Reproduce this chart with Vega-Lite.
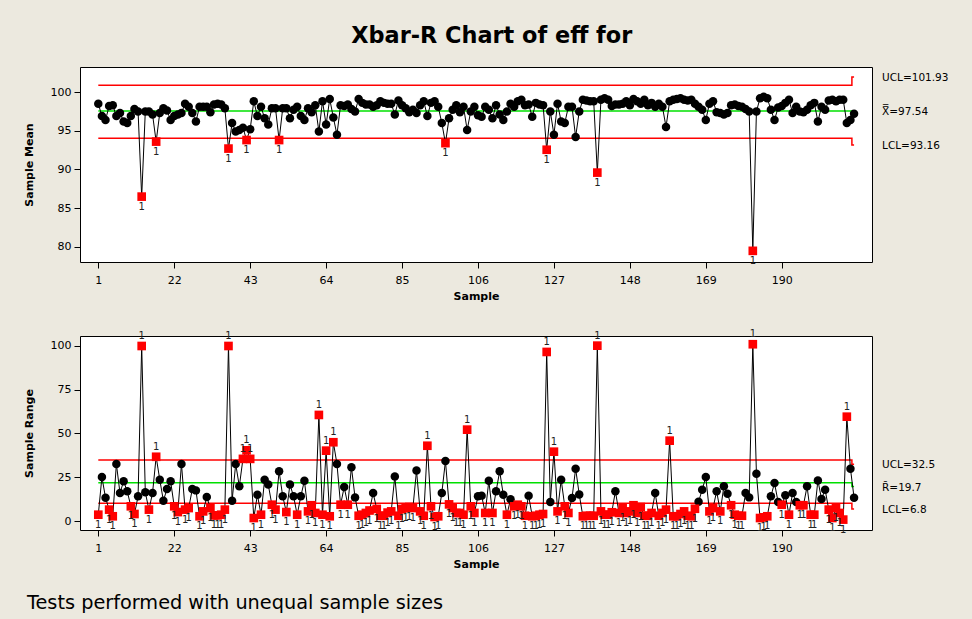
{
  "$schema": "https://vega.github.io/schema/vega-lite/v6.json",
  "background": "#ECE9DF",
  "padding": {"left": 22, "top": 25, "right": 60, "bottom": 40},
  "title": {"text": "Xbar-R Chart of eff for", "font": "DejaVu Sans", "fontSize": 22.4, "fontWeight": "bold", "anchor": "middle", "dx": 6, "offset": 19, "color": "black"},
  "bounds": "flush",
  "spacing": 74,
  "resolve": {"scale": {"x": "independent", "y": "independent"}},
  "datasets": {
    "samples": [
{"sample":1,"mean":98.5,"range":3.6},{"sample":2,"mean":96.9,"range":25.1},{"sample":3,"mean":96.4,"range":13.3},{"sample":4,"mean":98.2,"range":6.5},{"sample":5,"mean":98.3,"range":2.7},{"sample":6,"mean":96.9,"range":32.6},{"sample":7,"mean":97.3,"range":16},{"sample":8,"mean":96.2,"range":22.7},{"sample":9,"mean":96.0,"range":17},{"sample":10,"mean":96.9,"range":8.4},
{"sample":11,"mean":97.8,"range":4},{"sample":12,"mean":97.5,"range":14.1},{"sample":13,"mean":86.5,"range":100},{"sample":14,"mean":97.5,"range":16.4},{"sample":15,"mean":97.5,"range":6.5},{"sample":16,"mean":97.1,"range":16},{"sample":17,"mean":93.6,"range":36.7},{"sample":18,"mean":97.3,"range":23.6},{"sample":19,"mean":97.9,"range":11.6},{"sample":20,"mean":97.6,"range":18.3},
{"sample":21,"mean":96.4,"range":22.7},{"sample":22,"mean":96.9,"range":8.4},{"sample":23,"mean":97.1,"range":5.1},{"sample":24,"mean":97.3,"range":32.6},{"sample":25,"mean":98.5,"range":6.5},{"sample":26,"mean":98.1,"range":7.4},{"sample":27,"mean":97.3,"range":18.3},{"sample":28,"mean":96.2,"range":17.5},{"sample":29,"mean":98.1,"range":2.7},{"sample":30,"mean":98.1,"range":5.5},
{"sample":31,"mean":98.1,"range":13.7},{"sample":32,"mean":97.4,"range":7.4},{"sample":33,"mean":98.4,"range":3.2},{"sample":34,"mean":98.5,"range":3.2},{"sample":35,"mean":98.4,"range":3.6},{"sample":36,"mean":97.9,"range":6.5},{"sample":37,"mean":92.7,"range":100},{"sample":38,"mean":96.0,"range":11.6},{"sample":39,"mean":94.9,"range":32.6},{"sample":40,"mean":95.1,"range":19.8},
{"sample":41,"mean":95.4,"range":35.5},{"sample":42,"mean":93.8,"range":40.4},{"sample":43,"mean":95.2,"range":35.5},{"sample":44,"mean":98.8,"range":1.7},{"sample":45,"mean":96.9,"range":15},{"sample":46,"mean":98.1,"range":3.6},{"sample":47,"mean":96.6,"range":23.6},{"sample":48,"mean":95.8,"range":20.8},{"sample":49,"mean":97.9,"range":9.3},{"sample":50,"mean":97.9,"range":6.5},
{"sample":51,"mean":93.8,"range":28.4},{"sample":52,"mean":97.9,"range":14.1},{"sample":53,"mean":97.9,"range":5.1},{"sample":54,"mean":96.6,"range":20.8},{"sample":55,"mean":97.7,"range":14.1},{"sample":56,"mean":98.1,"range":3.6},{"sample":57,"mean":96.9,"range":14.1},{"sample":58,"mean":96.4,"range":23},{"sample":59,"mean":97.9,"range":5.5},{"sample":60,"mean":97.4,"range":9},
{"sample":61,"mean":98.3,"range":4.6},{"sample":62,"mean":94.9,"range":60.6},{"sample":63,"mean":98.8,"range":3.6},{"sample":64,"mean":95.8,"range":40.2},{"sample":65,"mean":99.1,"range":2.7},{"sample":66,"mean":96.7,"range":45},{"sample":67,"mean":94.5,"range":32.6},{"sample":68,"mean":98.3,"range":9.3},{"sample":69,"mean":98.2,"range":19.4},{"sample":70,"mean":98.4,"range":9.3},
{"sample":71,"mean":97.8,"range":30.7},{"sample":72,"mean":97.5,"range":13.5},{"sample":73,"mean":99.1,"range":3},{"sample":74,"mean":98.6,"range":3.6},{"sample":75,"mean":98.4,"range":4.6},{"sample":76,"mean":98.4,"range":6},{"sample":77,"mean":98.1,"range":16},{"sample":78,"mean":98.3,"range":6.9},{"sample":79,"mean":98.8,"range":3},{"sample":80,"mean":98.6,"range":3},
{"sample":81,"mean":98.5,"range":4.8},{"sample":82,"mean":98.5,"range":5.5},{"sample":83,"mean":97.1,"range":25.5},{"sample":84,"mean":98.9,"range":3},{"sample":85,"mean":98.3,"range":6.9},{"sample":86,"mean":97.9,"range":7.4},{"sample":87,"mean":97.4,"range":8},{"sample":88,"mean":97.7,"range":7.4},{"sample":89,"mean":97.3,"range":28.8},{"sample":90,"mean":98.3,"range":5.5},
{"sample":91,"mean":98.8,"range":3},{"sample":92,"mean":96.9,"range":43},{"sample":93,"mean":98.6,"range":8.4},{"sample":94,"mean":98.8,"range":2.3},{"sample":95,"mean":98.1,"range":2.7},{"sample":96,"mean":96.0,"range":16},{"sample":97,"mean":93.4,"range":34.3},{"sample":98,"mean":96.6,"range":9.5},{"sample":99,"mean":97.7,"range":7.4},{"sample":100,"mean":98.3,"range":4.6},
{"sample":101,"mean":97.4,"range":4.6},{"sample":102,"mean":98.1,"range":3.6},{"sample":103,"mean":95.1,"range":52.2},{"sample":104,"mean":97.5,"range":8.4},{"sample":105,"mean":98.1,"range":4.6},{"sample":106,"mean":97.0,"range":14.1},{"sample":107,"mean":96.8,"range":14.5},{"sample":108,"mean":98.1,"range":4.6},{"sample":109,"mean":97.7,"range":23},{"sample":110,"mean":96.6,"range":4.6},
{"sample":111,"mean":98.3,"range":17},{"sample":112,"mean":97.1,"range":28.4},{"sample":113,"mean":96.4,"range":15},{"sample":114,"mean":97.5,"range":3.6},{"sample":115,"mean":98.5,"range":12.4},{"sample":116,"mean":98.1,"range":8.4},{"sample":117,"mean":98.8,"range":9.3},{"sample":118,"mean":99.0,"range":8.4},{"sample":119,"mean":98.3,"range":3},{"sample":120,"mean":98.4,"range":14.5},
{"sample":121,"mean":96.8,"range":2.7},{"sample":122,"mean":98.6,"range":3},{"sample":123,"mean":98.4,"range":3.6},{"sample":124,"mean":98.3,"range":4},{"sample":125,"mean":92.55,"range":96.6},{"sample":126,"mean":97.5,"range":10.9},{"sample":127,"mean":94.5,"range":39.6},{"sample":128,"mean":98.5,"range":5.5},{"sample":129,"mean":96.2,"range":23.6},{"sample":130,"mean":96.0,"range":8.4},
{"sample":131,"mean":98.1,"range":4.6},{"sample":132,"mean":98.1,"range":13.1},{"sample":133,"mean":94.2,"range":29.9},{"sample":134,"mean":97.5,"range":15.2},{"sample":135,"mean":99.0,"range":2.7},{"sample":136,"mean":98.9,"range":3},{"sample":137,"mean":98.8,"range":3},{"sample":138,"mean":98.8,"range":3},{"sample":139,"mean":89.6,"range":100.2},{"sample":140,"mean":99.0,"range":5.5},
{"sample":141,"mean":99.2,"range":3.6},{"sample":142,"mean":99.0,"range":3.6},{"sample":143,"mean":98.2,"range":5},{"sample":144,"mean":98.4,"range":17},{"sample":145,"mean":98.4,"range":4.6},{"sample":146,"mean":98.5,"range":7.4},{"sample":147,"mean":98.8,"range":4.6},{"sample":148,"mean":98.3,"range":5.5},{"sample":149,"mean":99.1,"range":9},{"sample":150,"mean":98.8,"range":4.6},
{"sample":151,"mean":98.5,"range":8},{"sample":152,"mean":99.0,"range":3},{"sample":153,"mean":98.3,"range":3},{"sample":154,"mean":98.6,"range":4.6},{"sample":155,"mean":98.1,"range":16},{"sample":156,"mean":98.5,"range":3},{"sample":157,"mean":98.1,"range":4.6},{"sample":158,"mean":95.5,"range":6.5},{"sample":159,"mean":98.8,"range":45.9},{"sample":160,"mean":99.0,"range":2.7},
{"sample":161,"mean":99.1,"range":2.7},{"sample":162,"mean":99.2,"range":4},{"sample":163,"mean":99.0,"range":5.5},{"sample":164,"mean":98.9,"range":3},{"sample":165,"mean":99.0,"range":2.7},{"sample":166,"mean":98.5,"range":7},{"sample":167,"mean":98.1,"range":11},{"sample":168,"mean":97.7,"range":17.9},{"sample":169,"mean":96.4,"range":25.1},{"sample":170,"mean":98.5,"range":5.5},
{"sample":171,"mean":98.8,"range":7.4},{"sample":172,"mean":97.4,"range":17},{"sample":173,"mean":97.3,"range":5.5},{"sample":174,"mean":97.1,"range":19.8},{"sample":175,"mean":97.3,"range":15.6},{"sample":176,"mean":98.3,"range":9},{"sample":177,"mean":98.4,"range":3.6},{"sample":178,"mean":98.2,"range":3},{"sample":179,"mean":98.1,"range":3},{"sample":180,"mean":97.8,"range":16},
{"sample":181,"mean":97.5,"range":13.5},{"sample":182,"mean":79.5,"range":101},{"sample":183,"mean":97.5,"range":27},{"sample":184,"mean":99.2,"range":1.7},{"sample":185,"mean":99.4,"range":2.1},{"sample":186,"mean":99.2,"range":2.7},{"sample":187,"mean":97.7,"range":14.1},{"sample":188,"mean":96.4,"range":21.7},{"sample":189,"mean":98.0,"range":10.8},{"sample":190,"mean":98.2,"range":9.3},
{"sample":191,"mean":98.6,"range":14.7},{"sample":192,"mean":99.0,"range":3.6},{"sample":193,"mean":97.3,"range":16},{"sample":194,"mean":98.1,"range":10.8},{"sample":195,"mean":97.5,"range":9},{"sample":196,"mean":97.4,"range":9},{"sample":197,"mean":97.7,"range":19.8},{"sample":198,"mean":98.3,"range":3.6},{"sample":199,"mean":98.6,"range":3.6},{"sample":200,"mean":96.2,"range":23.2},
{"sample":201,"mean":98.1,"range":12.6},{"sample":202,"mean":97.7,"range":17.9},{"sample":203,"mean":98.9,"range":6.5},{"sample":204,"mean":99.0,"range":1.7},{"sample":205,"mean":98.8,"range":7.4},{"sample":206,"mean":99.0,"range":4.6},{"sample":207,"mean":99.0,"range":0.8},{"sample":208,"mean":96.0,"range":59.6},{"sample":209,"mean":96.4,"range":29.9},{"sample":210,"mean":97.2,"range":13.3}
    ],
    "limits_mean": [
      {"sample":1,"kind":"UCL","value":100.86},{"sample":209.4,"kind":"UCL","value":101.93},{"sample":210,"kind":"UCL","value":101.93},
      {"sample":1,"kind":"CL","value":97.54},{"sample":210,"kind":"CL","value":97.54},
      {"sample":1,"kind":"LCL","value":94.03},{"sample":209.4,"kind":"LCL","value":93.16},{"sample":210,"kind":"LCL","value":93.16}
    ],
    "limits_range": [
      {"sample":1,"kind":"UCL","value":34.86},{"sample":209.4,"kind":"UCL","value":32.5},{"sample":210,"kind":"UCL","value":32.5},
      {"sample":1,"kind":"CL","value":21.9},{"sample":209.4,"kind":"CL","value":19.7},{"sample":210,"kind":"CL","value":19.7},
      {"sample":1,"kind":"LCL","value":10.1},{"sample":209.4,"kind":"LCL","value":6.8},{"sample":210,"kind":"LCL","value":6.8}
    ],
    "labels_mean": [
      {"sample":210,"value":101.93,"label":"UCL=101.93"},
      {"sample":210,"value":97.54,"label":"X̿=97.54"},
      {"sample":210,"value":93.16,"label":"LCL=93.16"}
    ],
    "labels_range": [
      {"sample":210,"value":32.5,"label":"UCL=32.5"},
      {"sample":210,"value":19.7,"label":"R̄=19.7"},
      {"sample":210,"value":6.8,"label":"LCL=6.8"}
    ]
  },
  "vconcat": [
    {
      "width": 792,
      "height": 195,
      "encoding": {
        "x": {"field": "sample", "type": "quantitative", "scale": {"domain": [-4.06, 214.96], "nice": false, "zero": false}, "axis": {"values": [1,22,43,64,85,106,127,148,169,190], "title": "Sample"}}
      },
      "layer": [
        {"data": {"name": "limits_mean"}, "mark": {"type": "line", "interpolate": "step-after", "strokeWidth": 1.5},
         "encoding": {"y": {"field": "value", "type": "quantitative", "scale": {"domain": [78.06, 103.23], "nice": false, "zero": false}, "axis": {"values": [80,85,90,95,100], "title": "Sample Mean"}},
                      "detail": {"field": "kind"},
                      "color": {"field": "kind", "type": "nominal", "scale": {"domain": ["UCL","CL","LCL"], "range": ["#FF0000","#00E000","#FF0000"]}, "legend": null}}},
        {"data": {"name": "samples"}, "mark": {"type": "line", "color": "black", "strokeWidth": 1},
         "encoding": {"y": {"field": "mean", "type": "quantitative", "scale": {"domain": [78.06, 103.23], "nice": false, "zero": false}, "axis": {"values": [80,85,90,95,100], "title": "Sample Mean"}}}},
        {"data": {"name": "samples"}, "transform": [{"filter": "datum.mean >= 94.03 && datum.mean <= 100.86"}],
         "mark": {"type": "point", "shape": "circle", "filled": true, "color": "black", "opacity": 1, "size": 72},
         "encoding": {"y": {"field": "mean", "type": "quantitative", "scale": {"domain": [78.06, 103.23], "nice": false, "zero": false}, "axis": {"values": [80,85,90,95,100], "title": "Sample Mean"}}}},
        {"data": {"name": "samples"}, "transform": [{"filter": "datum.mean < 94.03 || datum.mean > 100.86"}],
         "mark": {"type": "point", "shape": "square", "filled": true, "color": "#FF0000", "opacity": 1, "size": 75},
         "encoding": {"y": {"field": "mean", "type": "quantitative", "scale": {"domain": [78.06, 103.23], "nice": false, "zero": false}, "axis": {"values": [80,85,90,95,100], "title": "Sample Mean"}}}},
        {"data": {"name": "samples"}, "transform": [{"filter": "datum.mean < 94.03"}],
         "mark": {"type": "text", "text": "1", "dy": 10, "fontSize": 10, "color": "#222222", "baseline": "middle"},
         "encoding": {"y": {"field": "mean", "type": "quantitative", "scale": {"domain": [78.06, 103.23], "nice": false, "zero": false}, "axis": {"values": [80,85,90,95,100], "title": "Sample Mean"}}}},
        {"data": {"name": "labels_mean"}, "mark": {"type": "text", "align": "left", "baseline": "middle", "dx": 28, "dy": 1, "fontSize": 10.5, "color": "black"},
         "encoding": {"y": {"field": "value", "type": "quantitative", "scale": {"domain": [78.06, 103.23], "nice": false, "zero": false}, "axis": {"values": [80,85,90,95,100], "title": "Sample Mean"}},
                      "text": {"field": "label", "type": "nominal"}}}
      ]
    },
    {
      "width": 792,
      "height": 194,
      "title": {"text": "Tests performed with unequal sample sizes", "orient": "bottom", "anchor": "start", "frame": "group", "font": "DejaVu Sans", "fontSize": 19.3, "fontWeight": "normal", "color": "black", "dx": -53, "offset": 25},
      "encoding": {
        "x": {"field": "sample", "type": "quantitative", "scale": {"domain": [-4.06, 214.96], "nice": false, "zero": false}, "axis": {"values": [1,22,43,64,85,106,127,148,169,190], "title": "Sample"}}
      },
      "layer": [
        {"data": {"name": "limits_range"}, "mark": {"type": "line", "interpolate": "step-after", "strokeWidth": 1.5},
         "encoding": {"y": {"field": "value", "type": "quantitative", "scale": {"domain": [-5.14, 105.71], "nice": false, "zero": false}, "axis": {"values": [0,25,50,75,100], "title": "Sample Range"}},
                      "detail": {"field": "kind"},
                      "color": {"field": "kind", "type": "nominal", "scale": {"domain": ["UCL","CL","LCL"], "range": ["#FF0000","#00E000","#FF0000"]}, "legend": null}}},
        {"data": {"name": "samples"}, "mark": {"type": "line", "color": "black", "strokeWidth": 1},
         "encoding": {"y": {"field": "range", "type": "quantitative", "scale": {"domain": [-5.14, 105.71], "nice": false, "zero": false}, "axis": {"values": [0,25,50,75,100], "title": "Sample Range"}}}},
        {"data": {"name": "samples"}, "transform": [{"filter": "datum.range >= 10.1 && datum.range <= 34.86"}],
         "mark": {"type": "point", "shape": "circle", "filled": true, "color": "black", "opacity": 1, "size": 72},
         "encoding": {"y": {"field": "range", "type": "quantitative", "scale": {"domain": [-5.14, 105.71], "nice": false, "zero": false}, "axis": {"values": [0,25,50,75,100], "title": "Sample Range"}}}},
        {"data": {"name": "samples"}, "transform": [{"filter": "datum.range < 10.1 || datum.range > 34.86"}],
         "mark": {"type": "point", "shape": "square", "filled": true, "color": "#FF0000", "opacity": 1, "size": 75},
         "encoding": {"y": {"field": "range", "type": "quantitative", "scale": {"domain": [-5.14, 105.71], "nice": false, "zero": false}, "axis": {"values": [0,25,50,75,100], "title": "Sample Range"}}}},
        {"data": {"name": "samples"}, "transform": [{"filter": "datum.range < 10.1"}],
         "mark": {"type": "text", "text": "1", "dy": 10, "fontSize": 10, "color": "#222222", "baseline": "middle"},
         "encoding": {"y": {"field": "range", "type": "quantitative", "scale": {"domain": [-5.14, 105.71], "nice": false, "zero": false}, "axis": {"values": [0,25,50,75,100], "title": "Sample Range"}}}},
        {"data": {"name": "samples"}, "transform": [{"filter": "datum.range > 34.86"}],
         "mark": {"type": "text", "text": "1", "dy": -10, "fontSize": 10, "color": "#222222", "baseline": "middle"},
         "encoding": {"y": {"field": "range", "type": "quantitative", "scale": {"domain": [-5.14, 105.71], "nice": false, "zero": false}, "axis": {"values": [0,25,50,75,100], "title": "Sample Range"}}}},
        {"data": {"name": "labels_range"}, "mark": {"type": "text", "align": "left", "baseline": "middle", "dx": 28, "dy": 1, "fontSize": 10.5, "color": "black"},
         "encoding": {"y": {"field": "value", "type": "quantitative", "scale": {"domain": [-5.14, 105.71], "nice": false, "zero": false}, "axis": {"values": [0,25,50,75,100], "title": "Sample Range"}},
                      "text": {"field": "label", "type": "nominal"}}}
      ]
    }
  ],
  "config": {
    "view": {"stroke": "black", "strokeWidth": 1, "fill": "white"},
    "axis": {"grid": false, "domain": false, "tickColor": "black", "tickSize": 6, "labelColor": "black", "labelFont": "DejaVu Sans", "labelFontSize": 11, "labelPadding": 6, "titleFont": "DejaVu Sans", "titleFontSize": 11, "titleFontWeight": "bold", "titleColor": "black"},
    "axisY": {"titlePadding": 16, "labelPadding": 3},
    "axisX": {"titlePadding": 5},
    "text": {"font": "DejaVu Sans"}
  }
}
